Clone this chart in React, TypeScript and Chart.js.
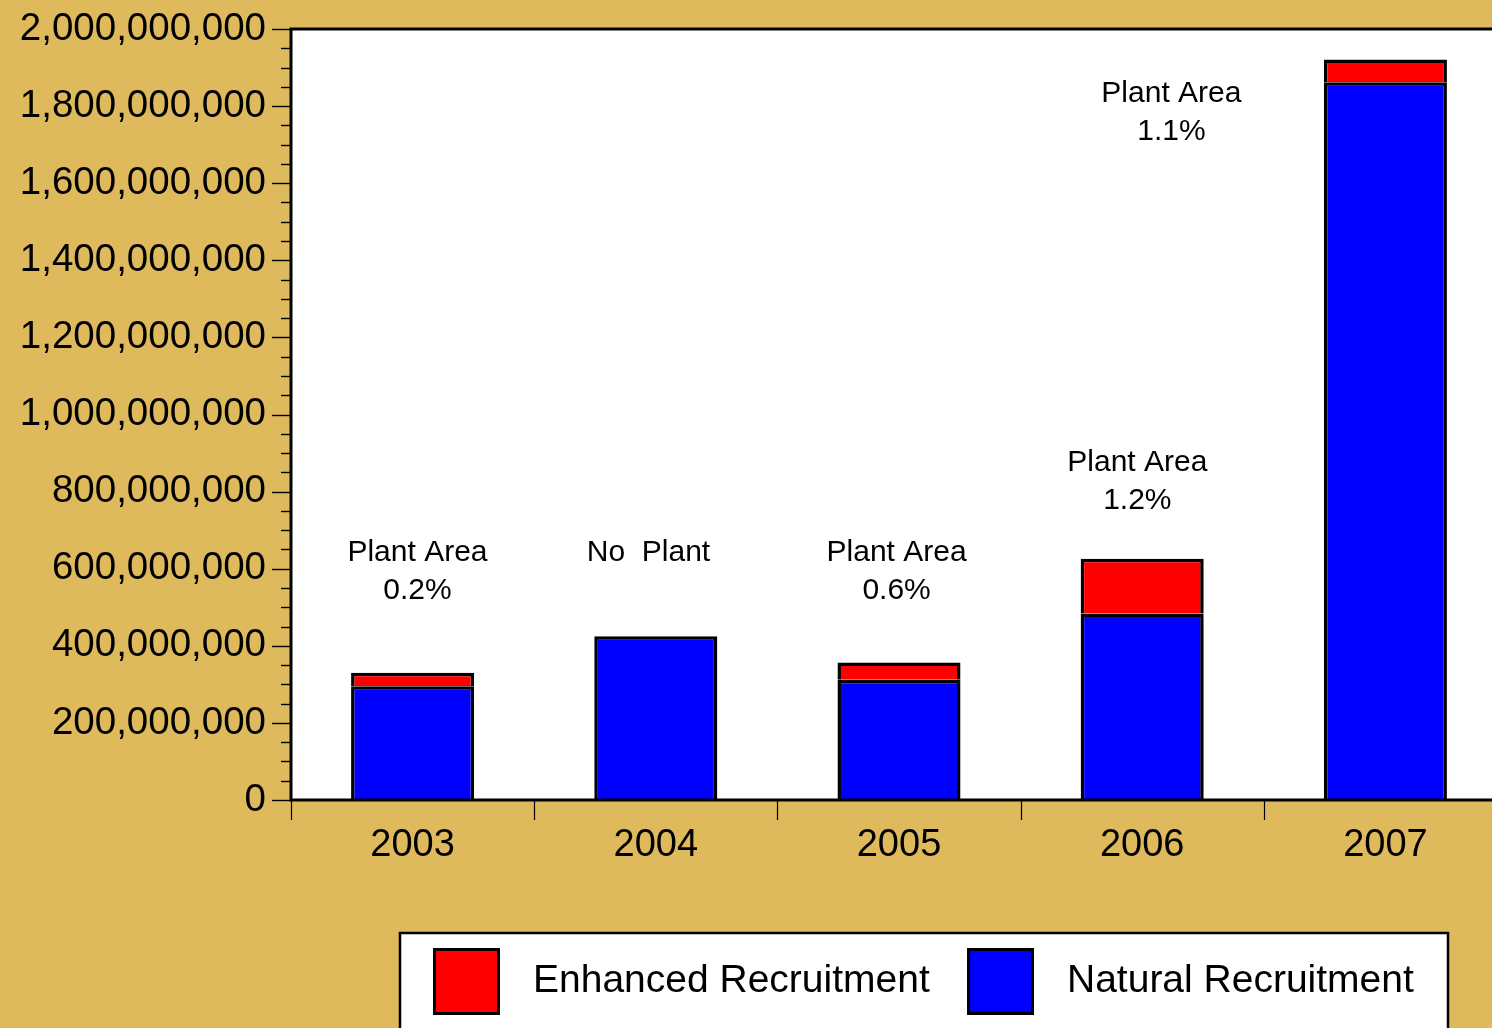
import React, { useEffect, useRef } from 'react';
import { Chart, registerables } from 'chart.js';

Chart.register(...registerables);

// ---- data ----
const categories = ['2003', '2004', '2005', '2006', '2007'];
const naturalRecruitment = [295e6, 425e6, 312e6, 484e6, 1862e6];
const enhancedRecruitment: (number | null)[] = [35e6, null, 45e6, 142e6, 59e6];
const seriesNames = ['Natural Recruitment', 'Enhanced Recruitment'];
const yMax = 2000000000;
const yMajorStep = 200000000;
const yMinorStep = 50000000;

// annotation texts and their anchors (category index, value of first-line baseline)
const annotationTexts: string[][] = [
  ['Plant Area', '0.2%'],
  ['No  Plant'],
  ['Plant Area', '0.6%'],
  ['Plant Area', '1.2%'],
  ['Plant Area', '1.1%'],
];
const annotationIndex = [0.02, 0.97, 1.99, 2.98, 3.12];
const annotationValue = [619e6, 619e6, 619e6, 853e6, 1811e6];

// ---- style ----
const FONT = '"Liberation Sans", Arial, Helvetica, sans-serif';
const BG = '#DEBA5C';
const BLUE = '#0000FF';
const RED = '#FF0000';

const decorPlugin = {
  id: 'decor',
  beforeDraw(chart: any) {
    const { ctx, chartArea } = chart;
    ctx.save();
    ctx.fillStyle = '#FFFFFF';
    ctx.fillRect(chartArea.left, chartArea.top, chartArea.right - chartArea.left, chartArea.bottom - chartArea.top);
    ctx.restore();
  },
  afterDatasetsDraw(chart: any) {
    const { ctx, chartArea } = chart;
    const xs = chart.scales.x;
    const ys = chart.scales.y;
    ctx.save();
    // frame
    ctx.strokeStyle = '#000';
    ctx.lineWidth = 3;
    ctx.beginPath();
    ctx.moveTo(chartArea.right + 5, chartArea.top);
    ctx.lineTo(chartArea.left, chartArea.top);
    ctx.lineTo(chartArea.left, chartArea.bottom);
    ctx.lineTo(chartArea.right + 5, chartArea.bottom);
    ctx.stroke();
    // y ticks (major + minor)
    ctx.lineWidth = 1.4;
    for (let v = 0; v <= yMax + 1; v += yMinorStep) {
      const y = Math.round(ys.getPixelForValue(v)) + 0.5;
      const major = Math.abs(v / yMajorStep - Math.round(v / yMajorStep)) < 1e-6;
      ctx.beginPath();
      ctx.moveTo(chartArea.left - (major ? 19 : 10), y);
      ctx.lineTo(chartArea.left, y);
      ctx.stroke();
    }
    // x ticks at category boundaries
    ctx.lineWidth = 1.2;
    for (let i = 0; i <= categories.length; i++) {
      const x = Math.round(xs.getPixelForValue(i - 0.5)) + 0.5;
      ctx.beginPath();
      ctx.moveTo(x, chartArea.bottom);
      ctx.lineTo(x, chartArea.bottom + 20);
      ctx.stroke();
    }
    // annotations
    ctx.fillStyle = '#000';
    ctx.font = `30px ${FONT}`;
    ctx.textAlign = 'center';
    ctx.textBaseline = 'alphabetic';
    annotationTexts.forEach((lines, k) => {
      const x = xs.getPixelForValue(annotationIndex[k]);
      const y = ys.getPixelForValue(annotationValue[k]);
      lines.forEach((t, j) => ctx.fillText(t, x, y + j * 38));
    });
    ctx.restore();
  },
  afterDraw(chart: any) {
    const { ctx } = chart;
    ctx.save();
    // legend box
    const bx = 400, by = 933, bw = 1048;
    ctx.fillStyle = '#FFFFFF';
    ctx.fillRect(bx, by, bw, 120);
    ctx.strokeStyle = '#000';
    ctx.lineWidth = 2.5;
    ctx.strokeRect(bx, by, bw, 120);
    // legend items, Enhanced first then Natural
    const order = [1, 0];
    const itemX = [bx + 33, bx + 567];
    order.forEach((dsIdx, k) => {
      const ds = chart.data.datasets[dsIdx];
      const x = itemX[k];
      const y = 948;
      ctx.fillStyle = '#000';
      ctx.fillRect(x, y, 67, 67);
      ctx.fillStyle = ds.backgroundColor;
      ctx.fillRect(x + 3, y + 3, 61, 61);
      ctx.fillStyle = '#000';
      ctx.font = `39px ${FONT}`;
      ctx.textAlign = 'left';
      ctx.textBaseline = 'alphabetic';
      ctx.fillText(ds.label, x + 100, 992);
    });
    ctx.restore();
  },
};

export default function App() {
  const canvasRef = useRef<HTMLCanvasElement | null>(null);

  useEffect(() => {
    const canvas = canvasRef.current;
    if (!canvas) return;
    const chart = new Chart(canvas, {
      type: 'bar',
      data: {
        labels: categories,
        datasets: [
          {
            label: seriesNames[0],
            data: naturalRecruitment,
            backgroundColor: BLUE,
            borderColor: '#000',
            borderWidth: 3.5,
            barPercentage: 0.506,
            categoryPercentage: 1,
          },
          {
            label: seriesNames[1],
            data: enhancedRecruitment,
            backgroundColor: RED,
            borderColor: '#000',
            borderWidth: 3.5,
            barPercentage: 0.506,
            categoryPercentage: 1,
          },
        ],
      } as any,
      options: {
        animation: false,
        responsive: false,
        devicePixelRatio: 1,
        layout: { padding: { top: 29, left: 0, right: 0, bottom: 0 } },
        plugins: {
          legend: { display: false },
          tooltip: { enabled: false },
        },
        scales: {
          x: {
            stacked: true,
            grid: { display: false, drawTicks: false },
            border: { display: false },
            ticks: { font: { family: FONT, size: 38 }, color: '#000', padding: 23 },
            afterFit: (s: any) => {
              s.height = 228;
              s.paddingLeft = 0;
              s.paddingRight = 0;
            },
          },
          y: {
            stacked: true,
            min: 0,
            max: yMax,
            grid: { display: false, drawTicks: false },
            border: { display: false },
            ticks: {
              stepSize: yMajorStep,
              font: { family: FONT, size: 38.5 },
              color: '#000',
              padding: 25,
              callback: (v: any) => Number(v).toLocaleString('en-US'),
            },
            afterFit: (s: any) => {
              s.width = 291;
              s.paddingTop = 0;
              s.paddingBottom = 0;
            },
          },
        },
      } as any,
      plugins: [decorPlugin],
    });
    return () => chart.destroy();
  }, []);

  return (
    <div
      style={{
        position: 'absolute',
        left: 0,
        top: 0,
        width: 1492,
        height: 1028,
        overflow: 'hidden',
        background: BG,
      }}
    >
      <canvas ref={canvasRef} width={1507} height={1028} style={{ display: 'block' }} />
    </div>
  );
}
